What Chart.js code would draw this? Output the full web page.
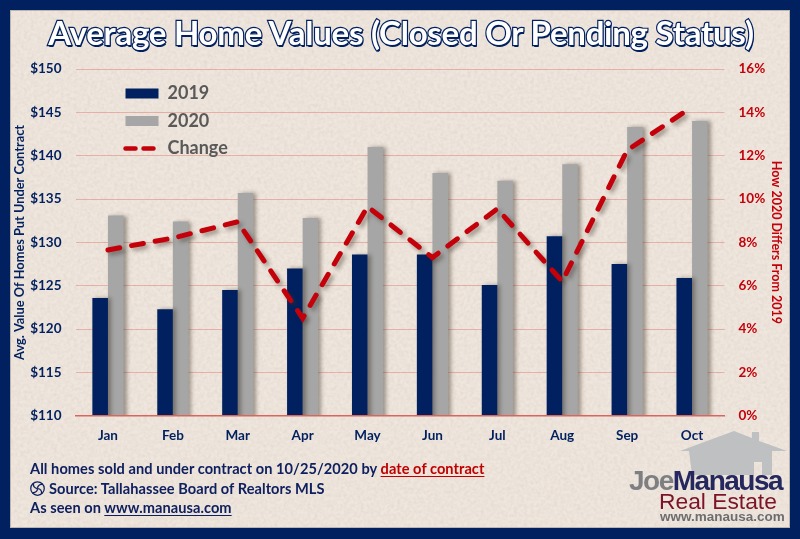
<!DOCTYPE html>
<html>
<head>
<meta charset="utf-8">
<script src="https://cdn.jsdelivr.net/npm/chart.js@4"></script>
<style>
html, body { margin: 0; padding: 0; }
body { width: 800px; height: 539px; background: #00205f; overflow: hidden; position: relative; font-family: Lato, sans-serif; font-weight: bold; }
#panel {
  position: absolute; left: 10px; top: 10px; width: 778px; height: 516px;
  border: 1px solid #b9b5b2; background-color: #efe6dd;
  background-image: url("data:image/svg+xml;utf8,<svg xmlns='http://www.w3.org/2000/svg' width='780' height='518'><filter id='n'><feTurbulence type='fractalNoise' baseFrequency='0.3' numOctaves='3' seed='4'/><feColorMatrix values='0 0 0 0 0.6 0 0 0 0 0.52 0 0 0 0 0.46 0.35 0.35 0 0 -0.26'/></filter><rect width='780' height='518' filter='url(%23n)'/></svg>");
}
#wrap { position: absolute; left: 0; top: 0; width: 800px; height: 539px; }
#title {
  position: absolute; left: 0; top: 10px; width: 802px; text-align: center;
  font-size: 33px; line-height: 44px; color: #fff; letter-spacing: -0.25px; white-space: nowrap;
  -webkit-text-stroke: 2.4px #00205f; paint-order: stroke fill;
  text-shadow: 1px 2px 0 #00205f;
}
.note { position: absolute; left: 30px; font-size: 14.6px; line-height: 20px; color: #0f2060; white-space: nowrap; letter-spacing: 0.05px; }
.note u { text-underline-offset: 2px; }
.note .red { color: #c00000; }
#logo1, #logo2, #logo3 { position: absolute; white-space: nowrap; font-family: "Liberation Sans", sans-serif; }
#logo1 { left: 629px; top: 464px; font-size: 28px; line-height: 34px; letter-spacing: -1.5px; font-weight: bold; color: #24285f; }
#logo1 span { color: #7d7f83; }
#logo2 { left: 659px; top: 488px; font-size: 22.8px; line-height: 26px; font-weight: normal; color: #7c1428; }
#logo3 { left: 660px; top: 509px; font-size: 13.5px; line-height: 15px; color: #6d6d70; letter-spacing: 0; }
svg.abs { position: absolute; }
</style>
</head>
<body>
<div id="panel"></div>
<svg class="abs" style="left:680px;top:430px" width="110" height="45" viewBox="0 0 110 45">
  <path d="M0 21 L54 1 L72 8 L72 2 L79 2 L79 11 L107 21 L92 21 L92 45 L82 45 L82 32 L74 32 L74 45 L12 45 L9 21 Z" fill="#bfc0c2"/>
</svg>
<div id="wrap"><canvas id="homeChart" width="800" height="539"></canvas></div>
<div id="title">Average Home Values (Closed Or Pending Status)</div>
<div class="note" style="top:459px">All homes sold and under contract on 10/25/2020 by <u class="red">date of contract</u></div>
<svg class="abs" style="left:30px;top:481px" width="15" height="15" viewBox="0 0 30 30">
  <circle cx="15" cy="15" r="13.5" fill="none" stroke="#0f2060" stroke-width="2.5"/>
  <g fill="none" stroke="#0f2060" stroke-width="2.5">
    <path d="M15 15C15 9 20 6 25 7"/><path d="M15 15C21 15 24 20 23 25"/><path d="M15 15C15 21 10 24 5 23"/><path d="M15 15C9 15 6 10 7 5"/>
  </g>
</svg>
<div class="note" style="top:479px;left:49px">Source: Tallahassee Board of Realtors MLS</div>
<div class="note" style="top:498px">As seen on <u>www.manausa.com</u></div>
<div id="logo1"><span>Joe</span>Manausa</div>
<div id="logo2">Real Estate</div>
<div id="logo3">www.manausa.com</div>
<script>
var months = ['Jan','Feb','Mar','Apr','May','Jun','Jul','Aug','Sep','Oct'];
var values2019 = [123.6,122.3,124.5,127.0,128.6,128.6,125.1,130.7,127.5,125.9];
var values2020 = [133.1,132.4,135.7,132.8,141.0,138.0,137.1,139.0,143.3,144.0];
var change = [7.65,8.2,8.95,4.5,9.65,7.3,9.55,6.2,12.25,14.25];

var navy = '#00205f';
var red = '#c4000a';
var labelFont = { family: 'Lato', size: 13.5, weight: 'bold' };

// soft shadow under the bars and the line, and moves the legend into place
var extras = {
  id: 'extras',
  beforeDraw: function (chart) {
    chart.legend.left = 116;
    chart.legend.top = 75;
  },
  beforeDatasetDraw: function (chart, args) {
    var c = chart.ctx;
    c.save();
    c.shadowColor = 'rgba(60,50,40,0.45)';
    c.shadowBlur = 4;
    c.shadowOffsetX = 3;
    c.shadowOffsetY = args.index == 2 ? 3 : 0;
  },
  afterDatasetDraw: function (chart) {
    chart.ctx.restore();
  }
};

var ctx = document.getElementById('homeChart');
var myChart = new Chart(ctx, {
  type: 'bar',
  plugins: [extras],
  data: {
    labels: months,
    datasets: [
      { label: '2019', data: values2019, backgroundColor: navy, order: 1, yAxisID: 'y', categoryPercentage: 0.48, barPercentage: 1 },
      { label: '2020', data: values2020, backgroundColor: '#a6a6a6', order: 2, yAxisID: 'y', categoryPercentage: 0.48, barPercentage: 1 },
      { label: 'Change', type: 'line', data: change, borderColor: red, backgroundColor: red, borderWidth: 5, borderDash: [12, 12], borderCapStyle: 'round', pointRadius: 0, pointStyle: 'line', tension: 0, order: 0, yAxisID: 'y1' }
    ]
  },
  options: {
    responsive: false,
    animation: false,
    layout: { padding: { left: 12, top: 69, right: 16, bottom: 91 } },
    plugins: {
      title: { display: false },
      tooltip: { enabled: false },
      legend: {
        position: 'chartArea',
        align: 'start',
        labels: {
          color: '#595959',
          font: { family: 'Lato', size: 18, weight: 'bold' },
          usePointStyle: true,
          pointStyleWidth: 33,
          boxHeight: 10,
          padding: 9.5,
          sort: function (a, b) { return a.text < b.text ? -1 : 1; },
          generateLabels: function (chart) {
            var items = Chart.defaults.plugins.legend.labels.generateLabels(chart);
            items.forEach(function (it) {
              if (it.text == 'Change') {
                it.pointStyle = 'line';
                it.strokeStyle = red;
                it.lineWidth = 4.5;
                it.lineDash = [10, 8];
                it.lineCap = 'round';
              } else {
                it.pointStyle = 'rect';
                it.lineWidth = 0;
              }
            });
            return items;
          }
        }
      }
    },
    scales: {
      x: {
        grid: { display: false },
        border: { color: '#d8665c', width: 1.5, z: 1 },
        ticks: { color: navy, font: labelFont, padding: 4, maxRotation: 0 }
      },
      y: {
        min: 110, max: 150,
        afterFit: function (scale) { scale.width = 63.5; },
        grid: { color: 'rgba(222,105,95,0.42)', drawTicks: false },
        border: { display: false },
        ticks: { stepSize: 5, color: navy, font: labelFont, padding: 14, callback: function (v) { return '$' + v; } },
        title: { display: true, text: 'Avg. Value Of Homes Put Under Contract', color: navy, font: { family: 'Lato', size: 12.8, weight: 'bold' }, padding: 0 }
      },
      y1: {
        position: 'right',
        min: 0, max: 16,
        afterFit: function (scale) { scale.width = 59.5; },
        grid: { display: false },
        border: { display: false },
        ticks: { stepSize: 2, color: red, font: labelFont, padding: 6, callback: function (v) { return v + '%'; } },
        title: { display: true, text: 'How 2020 Differs From 2019', color: red, font: { family: 'Lato', size: 12.5, weight: 'bold' }, padding: 0 }
      }
    }
  }
});
</script>
</body>
</html>
